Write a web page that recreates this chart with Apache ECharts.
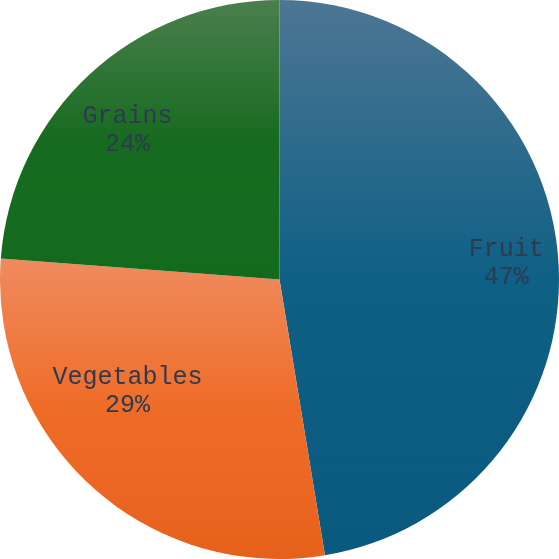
<!DOCTYPE html>
<html>
<head>
<meta charset="utf-8">
<script src="https://cdn.jsdelivr.net/npm/echarts@6/dist/echarts.min.js"></script>
<style>
html,body{margin:0;padding:0;background:#fff;}
#chart{width:559px;height:559px;}
</style>
</head>
<body>
<div id="chart"></div>
<script>
const categories = ['Fruit', 'Vegetables', 'Grains'];
const values = [47.4, 28.8, 23.8];
const topColors = ['#4d7693', '#ef8b5f', '#4b7f4d'];
const midColors = ['#0f6085', '#ef6c28', '#176b20'];
const bottomColors = ['#0a597e', '#e6611c', '#136a1d'];
// label nudges to match reference label placement
const labelShifts = [[1, 2], [1, -55], [2, 17]];

const chart = echarts.init(document.getElementById('chart'), null, {renderer: 'canvas'});

const baseData = categories.map((c, i) => ({
  name: c,
  value: values[i],
  itemStyle: {
    color: {
      type: 'linear', x: 0, y: 0, x2: 0, y2: 1,
      colorStops: [
        {offset: 0, color: topColors[i]},
        {offset: 0.5, color: midColors[i]},
        {offset: 1, color: bottomColors[i]}
      ]
    }
  }
}));

const labelData = categories.map((c, i) => ({name: c, value: values[i]}));

chart.setOption({
  animation: false,
  series: [
    {
      type: 'pie',
      center: ['50%', '50%'],
      radius: [0, '100%'],
      startAngle: 90,
      clockwise: true,
      silent: true,
      label: {show: false},
      labelLine: {show: false},
      data: baseData
    },
    {
      type: 'pie',
      center: ['50%', '50%'],
      radius: ['60%', '100%'],
      startAngle: 90,
      clockwise: true,
      silent: true,
      itemStyle: {color: 'rgba(0,0,0,0)', borderWidth: 0},
      labelLine: {show: false},
      label: {
        show: true,
        position: 'inside',
        formatter: p => p.name + '\n' + Math.round(p.percent) + '%',
        fontFamily: '"Liberation Mono", "Courier New", monospace',
        fontSize: 25,
        lineHeight: 28,
        color: '#2e3b4e',
        align: 'center'
      },
      labelLayout: p => {
        const s = labelShifts[p.dataIndex] || [0, 0];
        return {dx: s[0], dy: s[1]};
      },
      data: labelData
    }
  ]
});
</script>
</body>
</html>
